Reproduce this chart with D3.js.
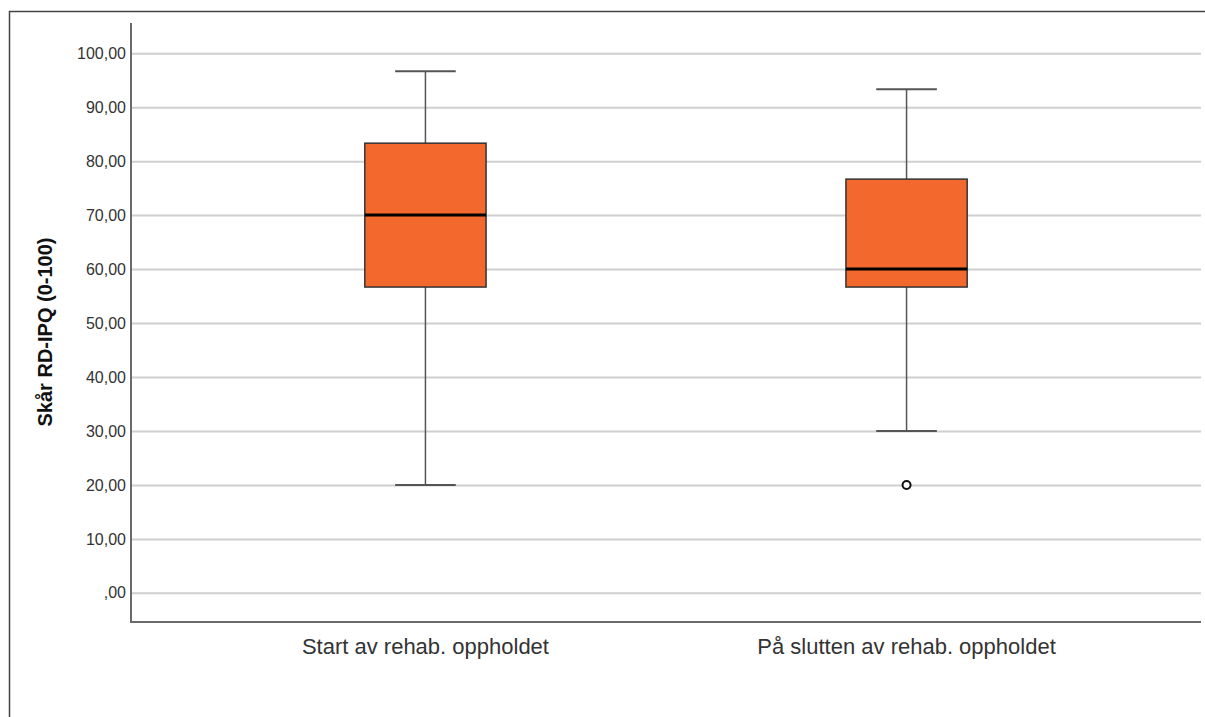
<!DOCTYPE html>
<html>
<head>
<meta charset="utf-8">
<script src="https://cdn.jsdelivr.net/npm/d3@7"></script>
<style>
  body { margin: 0; background: #fff; }
  text { font-family: "Liberation Sans", Arial, sans-serif; fill: #333; }
</style>
</head>
<body>
<script>

// box plot values
var categories = ["Start av rehab. oppholdet", "På slutten av rehab. oppholdet"];
var whiskerLow = [20, 30];
var q1 = [56.67, 56.67];
var median = [70, 60];
var q3 = [83.33, 76.67];
var whiskerHigh = [96.67, 93.33];
var outliers = [[], [20]];

var yTicks = [0, 10, 20, 30, 40, 50, 60, 70, 80, 90, 100];
var yTitle = "Skår RD-IPQ (0-100)";

var width = 1205,
    height = 717,
    margin = {top: 23, right: 4, bottom: 95, left: 131};

var svg = d3.select("body")
            .append("svg")
            .attr("width", width)
            .attr("height", height);

// outer frame (left and top edge only are visible)
svg.append("path")
    .attr("d", "M9.5," + height + "V11.5H" + width)
    .attr("fill", "none")
    .attr("stroke", "#444")
    .attr("stroke-width", 1.5);

var x = d3.scalePoint()
    .domain(categories)
    .range([margin.left, width - margin.right])
    .padding(0.612);

var y = d3.scaleLinear()
    .domain([-5.4, 105.6])
    .range([height - margin.bottom, margin.top]);

var boxWidth = x.step() * 0.252;

function fmt(v) {
    var s = v.toFixed(2).replace(".", ",");
    return v === 0 ? s.slice(1) : s;
}

// gridlines + tick labels
var yAxis = d3.axisLeft(y)
    .tickValues(yTicks)
    .tickSize(-(width - margin.right - margin.left))
    .tickPadding(6)
    .tickFormat(fmt);

var gy = svg.append("g")
    .attr("transform", "translate(" + margin.left + ",0)")
    .call(yAxis);

gy.select(".domain").remove();
gy.selectAll(".tick line")
    .attr("stroke", "#cfcfcf")
    .attr("stroke-width", 2);
gy.selectAll(".tick text")
    .attr("x", -5)
    .style("font-size", "16px")
    .style("fill", "#333");

// axis lines
svg.append("path")
    .attr("d", "M" + margin.left + "," + y.range()[1] + "V" + y.range()[0] + "H" + (width - margin.right))
    .attr("fill", "none")
    .attr("stroke", "#6a6a6a")
    .attr("stroke-width", 2);

// y title
svg.append("text")
    .attr("transform", "translate(52," + 332 + ") rotate(-90)")
    .attr("text-anchor", "middle")
    .style("font-size", "20px")
    .style("font-weight", "bold")
    .style("fill", "#111")
    .text(yTitle);

// x labels
svg.selectAll(".xlabel")
    .data(categories)
  .enter().append("text")
    .attr("class", "xlabel")
    .attr("x", function(d) { return x(d); })
    .attr("y", 654)
    .attr("text-anchor", "middle")
    .style("font-size", "22px")
    .text(function(d) { return d; });

var boxes = svg.selectAll(".box")
    .data(categories)
  .enter().append("g")
    .attr("class", "box");

// whiskers
boxes.append("line")
    .attr("x1", function(d) { return x(d); })
    .attr("x2", function(d) { return x(d); })
    .attr("y1", function(d, i) { return y(whiskerLow[i]); })
    .attr("y2", function(d, i) { return y(whiskerHigh[i]); })
    .attr("stroke", "#555")
    .attr("stroke-width", 1.5);

boxes.selectAll(".cap")
    .data(function(d, i) { return [{c: d, v: whiskerLow[i]}, {c: d, v: whiskerHigh[i]}]; })
  .enter().append("line")
    .attr("class", "cap")
    .attr("x1", function(d) { return x(d.c) - boxWidth / 4; })
    .attr("x2", function(d) { return x(d.c) + boxWidth / 4; })
    .attr("y1", function(d) { return y(d.v); })
    .attr("y2", function(d) { return y(d.v); })
    .attr("stroke", "#555")
    .attr("stroke-width", 2);

// box
boxes.append("rect")
    .attr("x", function(d) { return x(d) - boxWidth / 2; })
    .attr("width", boxWidth)
    .attr("y", function(d, i) { return y(q3[i]); })
    .attr("height", function(d, i) { return y(q1[i]) - y(q3[i]); })
    .attr("fill", "#f3682c")
    .attr("stroke", "#333")
    .attr("stroke-width", 1.5);

// median
boxes.append("line")
    .attr("x1", function(d) { return x(d) - boxWidth / 2; })
    .attr("x2", function(d) { return x(d) + boxWidth / 2; })
    .attr("y1", function(d, i) { return y(median[i]); })
    .attr("y2", function(d, i) { return y(median[i]); })
    .attr("stroke", "#000")
    .attr("stroke-width", 3);

// outliers
boxes.selectAll(".outlier")
    .data(function(d, i) { return outliers[i].map(function(v) { return {c: d, v: v}; }); })
  .enter().append("circle")
    .attr("class", "outlier")
    .attr("cx", function(d) { return x(d.c); })
    .attr("cy", function(d) { return y(d.v); })
    .attr("r", 4)
    .attr("fill", "#fff")
    .attr("stroke", "#111")
    .attr("stroke-width", 2);

</script>
</body>
</html>
